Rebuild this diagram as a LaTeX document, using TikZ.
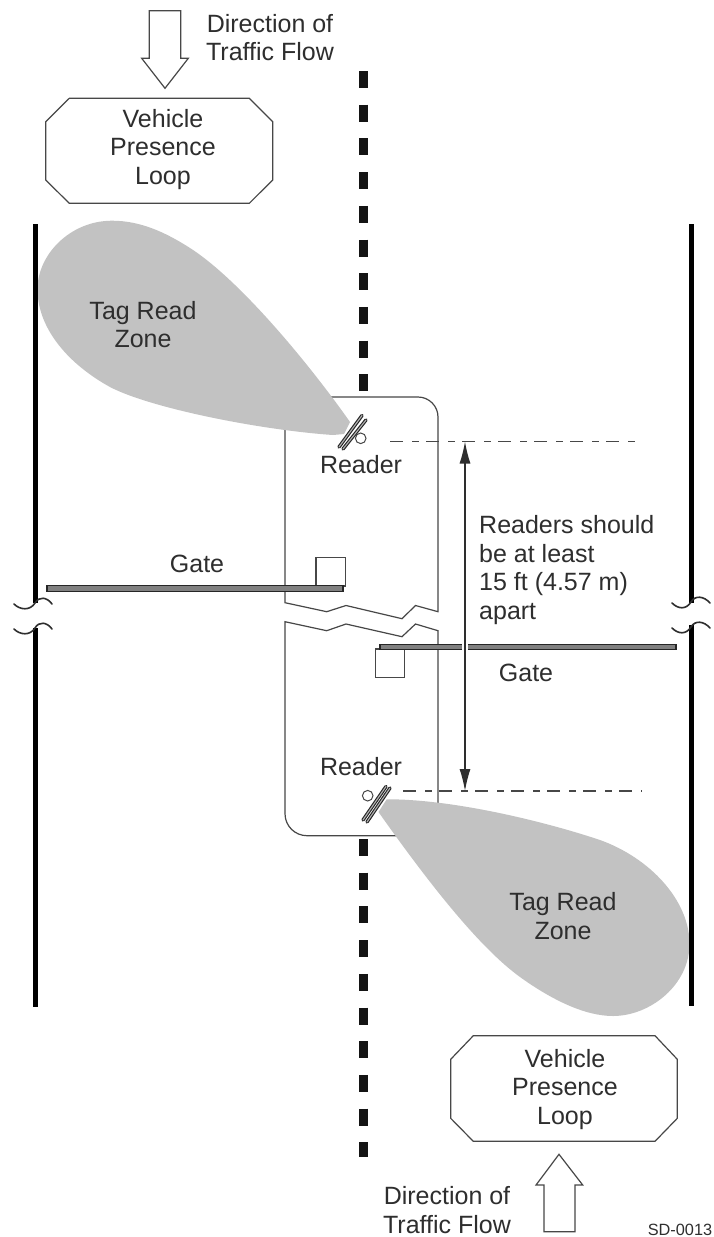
\documentclass[tikz,border=0pt]{standalone}
\usepackage{fontspec}
\setmainfont{Liberation Sans}
\usetikzlibrary{arrows.meta}
\definecolor{ink}{gray}{0.18}
\definecolor{linegray}{gray}{0.28}
\definecolor{zonegray}{gray}{0.76}
\tikzset{
  x=1pt,y=-1pt,
  label text/.style={text=ink,font=\fontsize{25}{28.6}\selectfont,inner sep=0pt,align=center},
  thin line/.style={draw=linegray,line width=1.2pt},
  road/.style={draw=black,line width=5pt},
  squiggle/.style={draw=ink,line width=1.6pt,line cap=round},
  centre dash/.style={draw=black!92,line width=8.5pt,dash pattern=on 17pt off 16.7pt},
  gatebar/.style={draw=black!85,fill=black!50,line width=1.5pt},
  zone/.style={fill=zonegray,draw=none},
  flow arrow/.style={draw=linegray,fill=white,line width=1.2pt,line join=miter},
  measure/.style={draw=ink,line width=1.2pt},
  guide/.style={draw=linegray,line width=1.2pt,dash pattern=on 13pt off 9pt on 7pt off 7pt},
}
\begin{document}
\begin{tikzpicture}
\useasboundingbox (0,0) rectangle (714,1237);
\fill[white] (0,0) rectangle (714,1237);
% centre line
\draw[centre dash] (363.5,71) -- (363.5,392);
\draw[centre dash] (363.5,839) -- (363.5,1157);
% reader islands
\draw[thin line,fill=white] (285,602.7) -- (285,397) -- (418,397) .. controls (429,397) and (438,406) .. (438,417) -- (438,611.7) -- (415.5,605.5) -- (402,618.7) -- (346,605.5) -- (326.7,611.7) -- cycle;
\draw[thin line,fill=white] (285,621.7) -- (326.7,630.7) -- (346,624) -- (402,636.7) -- (415.5,624) -- (438,630.7) -- (438,835.7) -- (307,835.7) .. controls (295,835.7) and (285,826) .. (285,813.7) -- cycle;
% zones
\path[zone] (350,422) .. controls (310,365) and (240,280) .. (190,248) .. controls (165,232) and (140,220.7) .. (112,220.7) .. controls (70,220.7) and (37,255) .. (37.5,290) .. controls (38,330) and (70,365) .. (110,387) .. controls (150,408) and (260,430) .. (333,435) -- (344,434) -- cycle;
\path[zone] (386.7,799.3) .. controls (450,799) and (540,820) .. (600,840) .. controls (650,858) and (689,900) .. (689.5,943) .. controls (690,985) and (650,1016) .. (613,1016) .. controls (585,1016) and (552,1000) .. (520,977) .. controls (480,948) and (430,885) .. (378.5,812) -- cycle;
% roads
\draw[road] (35,224) -- (35,603);
\draw[road] (35,628) -- (35,1007);
\draw[road] (691,224) -- (691,603);
\draw[road] (691,625) -- (691,1006);
\draw[squiggle] (14,604) .. controls (20,610) and (30,611) .. (35,603) .. controls (39,596) and (47,597) .. (52,604);
\draw[squiggle] (14,629) .. controls (20,635) and (30,636) .. (35,628) .. controls (39,621) and (47,622) .. (52,629);
\draw[squiggle] (672,603) .. controls (678,609) and (686,610) .. (691,602) .. controls (695,595) and (704,596) .. (710,603);
\draw[squiggle] (672,628) .. controls (678,634) and (686,635) .. (691,627) .. controls (695,620) and (704,621) .. (710,628);
% gates
\draw[thin line,fill=white] (316,586) rectangle (345.3,557.3);
\draw[gatebar] (47,585.7) rectangle (343,591.7);
\draw[thin line,fill=white] (375.7,649) rectangle (404.3,677.3);
\draw[gatebar] (380,644.3) rectangle (676,649.3);
% readers
\draw[thin line,line width=1pt] (360.7,438.3) circle[radius=5.3];
\foreach \a/\b/\c/\d in {339/447/362/415.5, 343/449/366/420,363/820/386/786.5,367/822/390/788}{
  \draw[draw=black!85,line width=3.4pt,line cap=round] (\a,\b) -- (\c,\d);
  \draw[draw=white!70!black,line width=1.1pt,line cap=round] (\a,\b) -- (\c,\d);
}
\draw[thin line,line width=1pt] (367.7,795.7) circle[radius=5.3];
% measurement
\coordinate (gtop1) at (390,441.5);
\coordinate (gtop2) at (642,441.5);
\coordinate (gbot1) at (403,791);
\coordinate (gbot2) at (642,791);
\coordinate (mtop) at (465,441.5);
\coordinate (mbot) at (465,791);
\draw[guide] (gtop1) -- (gtop2);
\draw[guide] (gbot1) -- (gbot2);
\draw[white,line width=6pt] (465,640) -- (465,654);
\draw[measure,{Latex[length=22pt,width=11pt]}-{Latex[length=22pt,width=11pt]}] (mtop) -- (mbot);
% flow arrows and loops
\draw[flow arrow] (149.3,10.7) -- (180.7,10.7) -- (180.7,58.3) -- (188.3,58.3) -- (165,88.3) -- (141.7,58.3) -- (149.3,58.3) -- cycle;
\draw[flow arrow] (544,1231.7) -- (575,1231.7) -- (575,1185) -- (582.7,1185) -- (559,1154.3) -- (536,1185) -- (544,1185) -- cycle;
\draw[thin line] (69.3,98.3) -- (249.3,98.3) -- (272.7,121.7) -- (272.7,180) -- (249.3,203.3) -- (69.3,203.3) -- (45.7,180) -- (45.7,121.7) -- cycle;
\draw[thin line] (473.3,1035.7) -- (655,1035.7) -- (677.3,1059.3) -- (677.3,1118.3) -- (655,1141.3) -- (473.3,1141.3) -- (450.7,1118.3) -- (450.7,1059.3) -- cycle;
% text
\node[label text] (flowA) at (270,37.5) {Direction of\\Traffic Flow};
\node[label text] (loopA) at (163,149.5) {Vehicle\\Presence\\Loop};
\node[label text] (zoneA) at (143,324.5) {Tag Read\\Zone};
\node[label text] (readerA) at (361,465) {Reader};
\node[label text] (gateA) at (197,564) {Gate};
\node[label text,align=left,anchor=west] (note) at (479,570) {Readers should\\be at least\\15 ft (4.57 m)\\apart};
\node[label text] (gateB) at (526,673) {Gate};
\node[label text] (readerB) at (361,767) {Reader};
\node[label text] (zoneB) at (563,916) {Tag Read\\Zone};
\node[label text] (loopB) at (565,1089.5) {Vehicle\\Presence\\Loop};
\node[label text] (flowB) at (447,1210) {Direction of\\Traffic Flow};
\node[label text,font=\fontsize{16.3}{18}\selectfont] (code) at (680,1230) {SD-0013};
\end{tikzpicture}
\end{document}
